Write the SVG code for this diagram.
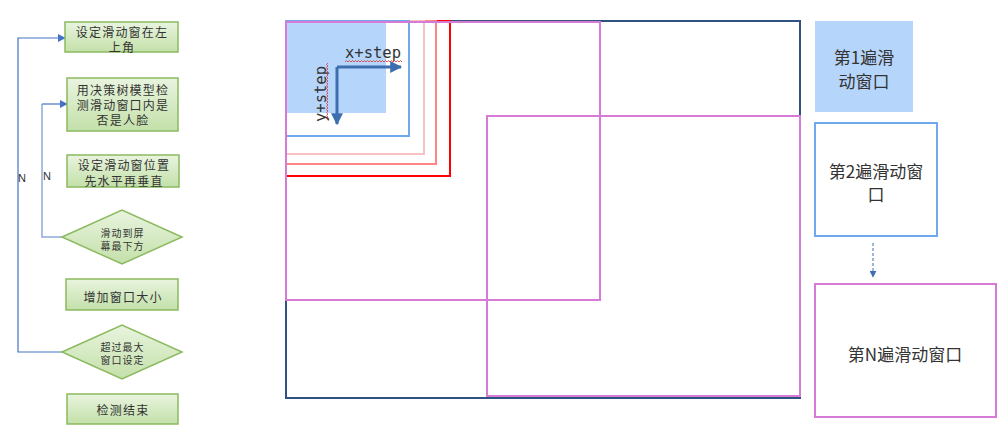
<svg xmlns="http://www.w3.org/2000/svg" width="1000" height="430" viewBox="0 0 1000 430">
<defs>
<linearGradient id="gg" x1="0" y1="0" x2="0" y2="1">
<stop offset="0" stop-color="#E9F4DF"/>
<stop offset="1" stop-color="#C3E0A9"/>
</linearGradient>
<marker id="ah" viewBox="0 0 10 10" refX="9" refY="5" markerWidth="8" markerHeight="8" markerUnits="userSpaceOnUse" orient="auto">
<path d="M0,0 L10,5 L0,10 z" fill="#4472C4"/>
</marker>
<marker id="ah2" viewBox="0 0 10 10" refX="9" refY="5" markerWidth="4" markerHeight="4" orient="auto">
<path d="M0,0 L10,5 L0,10 z" fill="#3D6FB0"/>
</marker>
<marker id="ah3" viewBox="0 0 10 10" refX="9" refY="5" markerWidth="7" markerHeight="7" markerUnits="userSpaceOnUse" orient="auto">
<path d="M0,0 L10,5 L0,10 z" fill="#3D6FB0"/>
</marker>
</defs>
<style>
.fc{fill:url(#gg);stroke:#8BBA5E;stroke-width:1.5}
.ft{font-family:"Noto Sans CJK SC","Noto Sans",sans-serif;font-size:12px;letter-spacing:1.2px;fill:#333;text-anchor:middle;dominant-baseline:central}
.dt{font-family:"Noto Sans CJK SC","Noto Sans",sans-serif;font-size:10px;letter-spacing:1px;fill:#333;text-anchor:middle;dominant-baseline:central}
.rt{font-family:"Noto Sans CJK SC","Noto Sans",sans-serif;font-size:17px;fill:#333;text-anchor:middle;dominant-baseline:central}
.nl{font-family:"Liberation Sans",Arial,sans-serif;font-size:11px;fill:#333;text-anchor:middle;dominant-baseline:central}
.mono{font-family:"DejaVu Sans Mono",monospace;font-size:15.5px;fill:#333}
.sq{fill:none;stroke:#E03030;stroke-width:0.8}
</style>
<rect width="1000" height="430" fill="#fff"/>

<g id="connectors" fill="none">
<path d="M62,352 H18 V38 H65" stroke="#4472C4" stroke-width="1.2" marker-end="url(#ah)"/>
<path d="M62,237 H42 V104" stroke="#8FAADC" stroke-width="1.5"/>
<path d="M42,104 H67" stroke="#4472C4" stroke-width="1.2" marker-end="url(#ah)"/>
<text class="nl" x="22" y="178">N</text>
<text class="nl" x="47" y="176">N</text>
<path d="M873,243 V277" stroke="#3D6FB0" stroke-width="1" stroke-dasharray="3,2" marker-end="url(#ah3)"/>
</g>

<g id="n1"><rect class="fc" x="65" y="22" width="113" height="30"/><text class="ft" x="122" y="31">设定滑动窗在左</text><text class="ft" x="122" y="46">上角</text></g>
<g id="n2"><rect class="fc" x="67" y="78" width="111" height="53"/><text class="ft" x="123" y="89">用决策树模型检</text><text class="ft" x="123" y="104">测滑动窗口内是</text><text class="ft" x="123" y="119">否是人脸</text></g>
<g id="n3"><rect class="fc" x="67" y="155" width="112" height="32"/><text class="ft" x="124" y="164">设定滑动窗位置</text><text class="ft" x="124" y="180">先水平再垂直</text></g>
<g id="n4"><polygon class="fc" points="62,237 122,210 182,237 122,264"/><text class="dt" x="122.5" y="232">滑动到屏</text><text class="dt" x="122.5" y="245">幕最下方</text></g>
<g id="n5"><rect class="fc" x="66" y="279" width="112" height="31"/><text class="ft" x="123" y="296">增加窗口大小</text></g>
<g id="n6"><polygon class="fc" points="62,352 122,325 182,352 122,379"/><text class="dt" x="122.5" y="346">超过最大</text><text class="dt" x="122.5" y="359">窗口设定</text></g>
<g id="n7"><rect class="fc" x="67" y="394" width="111" height="30"/><text class="ft" x="123" y="409">检测结束</text></g>

<g id="screen" fill="none">
<rect x="286" y="21" width="514" height="377" stroke="#2F5280" stroke-width="2"/>
<rect x="287" y="22" width="99" height="91" fill="#B6D5FA" stroke="none"/>
<rect x="286" y="21" width="164" height="155" stroke="#FF0000" stroke-width="2"/>
<rect x="286" y="21" width="150" height="143" stroke="#FF8585" stroke-width="2"/>
<rect x="286" y="21" width="138" height="133" stroke="#F9C2C2" stroke-width="2"/>
<rect x="286" y="21" width="123" height="115" stroke="#6FA8EC" stroke-width="2"/>
<rect x="286" y="22" width="314" height="278" stroke="#D57AD5" stroke-width="2"/>
<rect x="487" y="116" width="313" height="280" stroke="#D57AD5" stroke-width="2"/>
<path d="M337,67 H401" stroke="#3D6FB0" stroke-width="3" marker-end="url(#ah2)"/>
<path d="M337,67 V124" stroke="#3D6FB0" stroke-width="3" marker-end="url(#ah2)"/>
<text class="mono" x="345" y="58">x+step</text>
<text class="mono" transform="translate(326,122) rotate(-90)">y+step</text>
<path class="sq" d="M345,62 l1.5,-1.5 l1.5,1.5 l1.5,-1.5 l1.5,1.5 l1.5,-1.5 l1.5,1.5 l1.5,-1.5 l1.5,1.5 l1.5,-1.5 l1.5,1.5 l1.5,-1.5 l1.5,1.5 l1.5,-1.5 l1.5,1.5 l1.5,-1.5 l1.5,1.5 l1.5,-1.5 l1.5,1.5 l1.5,-1.5 l1.5,1.5 l1.5,-1.5 l1.5,1.5 l1.5,-1.5 l1.5,1.5 l1.5,-1.5 l1.5,1.5 l1.5,-1.5 l1.5,1.5 l1.5,-1.5 l1.5,1.5 l1.5,-1.5 l1.5,1.5 l1.5,-1.5 l1.5,1.5 l1.5,-1.5 l1.5,1.5 l1.5,-1.5 l1.5,1.5"/>
<path class="sq" d="M328,63 l-1.5,1.5 l1.5,1.5 l-1.5,1.5 l1.5,1.5 l-1.5,1.5 l1.5,1.5 l-1.5,1.5 l1.5,1.5 l-1.5,1.5 l1.5,1.5 l-1.5,1.5 l1.5,1.5 l-1.5,1.5 l1.5,1.5 l-1.5,1.5 l1.5,1.5 l-1.5,1.5 l1.5,1.5 l-1.5,1.5 l1.5,1.5 l-1.5,1.5 l1.5,1.5 l-1.5,1.5 l1.5,1.5 l-1.5,1.5 l1.5,1.5 l-1.5,1.5 l1.5,1.5 l-1.5,1.5 l1.5,1.5 l-1.5,1.5 l1.5,1.5 l-1.5,1.5 l1.5,1.5 l-1.5,1.5 l1.5,1.5 l-1.5,1.5 l1.5,1.5"/>
</g>

<g id="w1"><rect x="815" y="21" width="98" height="91" fill="#B6D5FA"/><text class="rt" x="864" y="56">第1遍滑</text><text class="rt" x="864" y="80">动窗口</text></g>
<g id="w2"><rect x="815" y="123" width="122" height="113" fill="#fff" stroke="#6FA8EC" stroke-width="2"/><text class="rt" x="876" y="170">第2遍滑动窗</text><text class="rt" x="876" y="193">口</text></g>
<g id="wn"><rect x="815" y="284" width="181" height="133" fill="#fff" stroke="#D57AD5" stroke-width="2"/><text class="rt" x="905" y="353">第N遍滑动窗口</text></g>
</svg>
